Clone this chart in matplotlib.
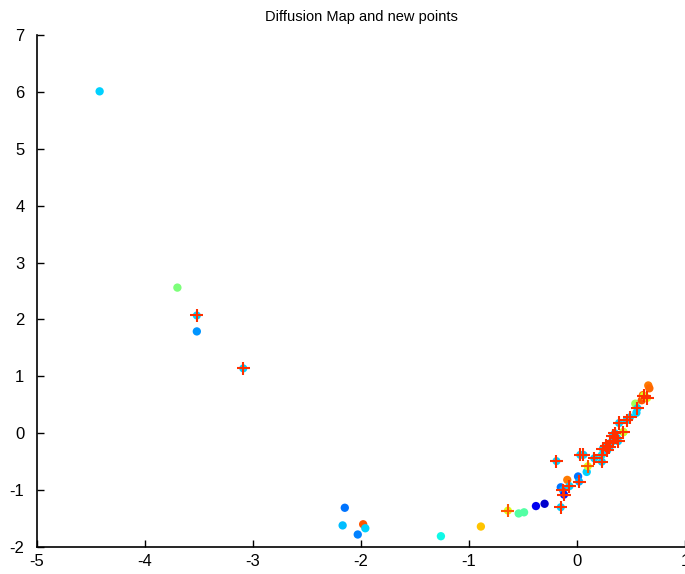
import numpy as np
import matplotlib
matplotlib.use('Agg')
import matplotlib.pyplot as plt

# ============================================================
# DATA
# ============================================================

# diffusion map embedding (filled dots, coloured with jet)
map_x = [-4.42, -3.70, -3.52, -2.15, -2.17, -1.98, -1.96, -2.03, -1.26, -0.89,
         -0.54, -0.49, -0.38, -0.30, -0.15, -0.09, 0.01, 0.09, 0.43, 0.55,
         0.54, 0.60, 0.61, 0.66, 0.67]
map_y = [6.01, 2.56, 1.79, -1.31, -1.62, -1.60, -1.67, -1.78, -1.81, -1.64,
         -1.41, -1.39, -1.28, -1.24, -0.95, -0.82, -0.76, -0.68, 0.02, 0.36,
         0.52, 0.58, 0.67, 0.84, 0.79]
map_c = [0.33, 0.50, 0.27, 0.24, 0.31, 0.82, 0.33, 0.25, 0.37, 0.70,
         0.45, 0.45, 0.10, 0.07, 0.24, 0.78, 0.24, 0.33, 0.58, 0.33,
         0.55, 0.82, 0.78, 0.78, 0.80]

# new points (dot + cross)
new_x = [-3.52, -3.09, -0.64, -0.15, -0.19, -0.13, -0.12, -0.07, 0.02, 0.03,
         0.06, 0.10, 0.16, 0.23, 0.23, 0.24, 0.27, 0.28, 0.30, 0.31,
         0.33, 0.33, 0.35, 0.37, 0.38, 0.39, 0.43, 0.46, 0.49, 0.56,
         0.65, 0.62]
new_y = [2.07, 1.14, -1.36, -1.30, -0.49, -1.00, -1.08, -0.93, -0.85, -0.38,
         -0.38, -0.58, -0.44, -0.50, -0.38, -0.27, -0.22, -0.30, -0.25, -0.17,
         -0.05, -0.14, 0.00, -0.08, -0.14, 0.18, 0.02, 0.23, 0.28, 0.44,
         0.62, 0.66]
new_c = [0.33, 0.33, 0.62, 0.33, 0.33, 0.30, 0.15, 0.33, 0.30, 0.33,
         0.33, 0.62, 0.33, 0.33, 0.35, 0.33, 0.33, 0.33, 0.33, 0.33,
         0.33, 0.33, 0.33, 0.33, 0.33, 0.33, 0.60, 0.33, 0.33, 0.33,
         0.62, 0.62]
new_plus = ['#ff3000', '#ff3000', '#ff5a00', '#ff3000', '#ff3000', '#ff3000', '#ff3000', '#ff3000', '#ff3000', '#ff3000',
            '#ff3000', '#ff5a00', '#ff3000', '#ff3000', '#ff3000', '#ff3000', '#ff3000', '#ff3000', '#ff3000', '#ff3000',
            '#ff3000', '#ff3000', '#ff3000', '#ff3000', '#ff3000', '#ff3000', '#ff3000', '#ff3000', '#ff3000', '#ff3000',
            '#ff3000', '#ff3000']

# ============================================================
# PLOT
# ============================================================

plt.rcParams['font.family'] = ['Liberation Sans', 'DejaVu Sans']
plt.rcParams['axes.unicode_minus'] = False

fig = plt.figure(figsize=(6.85, 5.74), dpi=100)
ax = fig.add_axes([0.054, 0.047, 0.946, 0.892])

ax.scatter(map_x, map_y, c=map_c, cmap='jet', vmin=0, vmax=1, s=36,
           edgecolors='none', zorder=2)
ax.scatter(new_x, new_y, c=new_c, cmap='jet', vmin=0, vmax=1, s=34,
           edgecolors='none', zorder=3)
ax.scatter(new_x, new_y, c=new_plus, marker='+', s=90, linewidths=1.5,
           zorder=4)

ax.set_xlim(-5, 1)
ax.set_ylim(-2, 7)
ax.set_xticks(np.arange(-5, 2, 1))
ax.set_yticks(np.arange(-2, 8, 1))
ax.tick_params(direction='in', length=5, width=1, labelsize=12)
ax.tick_params(axis='y', pad=9)
ax.tick_params(axis='x', pad=5)
for side in ['top', 'right']:
    ax.spines[side].set_visible(False)
for side in ['left', 'bottom']:
    ax.spines[side].set_linewidth(1.2)

ax.set_title('Diffusion Map and new points', fontsize=10.5, pad=10)

fig.savefig('out.png', dpi=100)
